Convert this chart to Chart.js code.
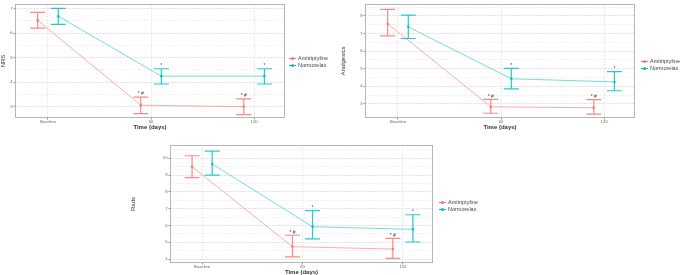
<!DOCTYPE html>
<html>
<head>
<meta charset="utf-8">
<script src="https://cdn.jsdelivr.net/npm/chart.js@4.4.0/dist/chart.umd.min.js"></script>
<style>
  body { margin: 0; background: #fff; width: 685px; height: 275px; overflow: hidden; font-family: "Liberation Sans", Arial, sans-serif; }
  canvas { position: absolute; }
  .legend { position: absolute; font-size: 5.5px; color: #444; line-height: 6.5px; }
  .legend .item { white-space: nowrap; }
  .legend .sym { display: inline-block; width: 7px; height: 1px; vertical-align: middle; margin-right: 2px; position: relative; }
  .legend .sym::after { content: ""; position: absolute; left: 2px; top: -1px; width: 3px; height: 3px; border-radius: 50%; background: inherit; }
</style>
</head>
<body>
<canvas id="nrs" width="290" height="131" style="left:0;top:0"></canvas>
<canvas id="analgesics" width="300" height="131" style="left:340px;top:0"></canvas>
<canvas id="rads" width="310" height="141" style="left:130px;top:135px"></canvas>

<div class="legend" style="left:289px;top:55px">
  <div class="item"><span class="sym" style="background:#F8766D"></span>Amitriptyline</div>
  <div class="item"><span class="sym" style="background:#00BFC4"></span>Normorelax</div>
</div>
<div class="legend" style="left:641px;top:58px">
  <div class="item"><span class="sym" style="background:#F8766D"></span>Amitriptyline</div>
  <div class="item"><span class="sym" style="background:#00BFC4"></span>Normorelax</div>
</div>
<div class="legend" style="left:439px;top:199px">
  <div class="item"><span class="sym" style="background:#F8766D"></span>Amitriptyline</div>
  <div class="item"><span class="sym" style="background:#00BFC4"></span>Normorelax</div>
</div>

<script>
var categories = ['Baseline', '60', '120'];
var groups = ['Amitriptyline', 'Normorelax'];

// NRS
var nrsAmi = [6.52, 3.07, 3.01];
var nrsAmiLow = [6.20, 2.73, 2.69];
var nrsAmiHigh = [6.84, 3.40, 3.33];
var nrsNor = [6.68, 4.25, 4.25];
var nrsNorLow = [6.35, 3.93, 3.93];
var nrsNorHigh = [7.00, 4.55, 4.55];

// Analgesics
var anaAmi = [7.56, 2.84, 2.78];
var anaAmiLow = [6.87, 2.47, 2.42];
var anaAmiHigh = [8.37, 3.26, 3.24];
var anaNor = [7.38, 4.43, 4.25];
var anaNorLow = [6.72, 3.86, 3.75];
var anaNorHigh = [8.05, 5.02, 4.84];

// Rads
var radAmi = [9.50, 4.74, 4.60];
var radAmiLow = [8.85, 4.14, 4.05];
var radAmiHigh = [10.15, 5.42, 5.24];
var radNor = [9.66, 5.93, 5.77];
var radNorLow = [9.00, 5.20, 5.02];
var radNorHigh = [10.42, 6.88, 6.64];

var sigAmi = ['', '* #', '* #'];
var sigNor = ['', '*', '*'];

// error bars, significance marks and panel border
var extras = {
    id: 'extras',
    afterDatasetsDraw(chart) {
        var ctx = chart.ctx;
        var xs = chart.scales.x, ys = chart.scales.y;
        chart.data.datasets.forEach(function(ds) {
            ds.data.forEach(function(p, i) {
                var px = xs.getPixelForValue(p.x);
                var top = ys.getPixelForValue(ds.high[i]);
                var bot = ys.getPixelForValue(ds.low[i]);
                ctx.save();
                ctx.strokeStyle = ds.barColor;
                ctx.lineWidth = 1.2;
                ctx.beginPath();
                ctx.moveTo(px, top); ctx.lineTo(px, bot);
                ctx.moveTo(px - 7.5, top); ctx.lineTo(px + 7.5, top);
                ctx.moveTo(px - 7.5, bot); ctx.lineTo(px + 7.5, bot);
                ctx.stroke();
                if (ds.sig[i]) {
                    ctx.fillStyle = '#444';
                    ctx.font = '5px "Liberation Sans", Arial, sans-serif';
                    ctx.textAlign = 'center';
                    ctx.textBaseline = 'bottom';
                    ctx.fillText(ds.sig[i], px, top - 0.5);
                }
                ctx.restore();
            });
        });
        var a = chart.chartArea;
        ctx.save();
        ctx.strokeStyle = '#b5b5b5';
        ctx.lineWidth = 1;
        ctx.strokeRect(a.left + 0.5, a.top + 0.5, a.right - a.left - 1, a.bottom - a.top - 1);
        ctx.restore();
    }
};

function series(vals, low, high, sig, color, barColor, shift, label) {
    return {
        label: label,
        data: vals.map(function(v, i) { return { x: i + shift, y: v }; }),
        low: low,
        high: high,
        sig: sig,
        barColor: barColor,
        borderColor: color,
        backgroundColor: barColor,
        borderWidth: 1,
        pointRadius: 1.3,
        pointBorderWidth: 0,
        tension: 0
    };
}

function renderPanel(id, title, amiSet, norSet, yMin, yMax, yTicks, yWidth, pad) {
    var ctx = document.getElementById(id).getContext('2d');
    return new Chart(ctx, {
        type: 'line',
        data: {
            datasets: [
                series(amiSet[0], amiSet[1], amiSet[2], sigAmi, 'rgba(248,118,109,0.6)', 'rgba(248,118,109,0.85)', -0.1, groups[0]),
                series(norSet[0], norSet[1], norSet[2], sigNor, 'rgba(0,191,196,0.55)', 'rgba(0,191,196,0.85)', 0.1, groups[1])
            ]
        },
        options: {
            responsive: false,
            animation: false,
            devicePixelRatio: 1,
            layout: { padding: pad },
            plugins: { legend: { display: false }, tooltip: { enabled: false } },
            scales: {
                x: {
                    type: 'linear',
                    min: -0.32,
                    max: 2.3,
                    afterFit: function(s) { s.height = 13; },
                    afterBuildTicks: function(s) { s.ticks = [0, 1, 2].map(function(v) { return { value: v }; }); },
                    ticks: {
                        callback: function(v) { return categories[v]; },
                        font: { size: 4.2 },
                        color: '#666',
                        padding: 0,
                        maxRotation: 0,
                        autoSkip: false
                    },
                    grid: { color: '#ebebeb', tickLength: 1.5, tickColor: '#999', lineWidth: 1 },
                    border: { display: false, dash: [2, 1] },
                    title: {
                        display: true,
                        text: 'Time (days)',
                        font: { size: 6, weight: 'bold' },
                        color: '#333',
                        padding: { top: 0, bottom: 0 }
                    }
                },
                y: {
                    type: 'linear',
                    min: yMin,
                    max: yMax,
                    afterFit: function(s) { s.width = yWidth; },
                    afterBuildTicks: function(s) { s.ticks = yTicks.map(function(v) { return { value: v }; }); },
                    ticks: {
                        callback: function(v) { return Number.isInteger(v) ? v : ''; },
                        font: { size: 4.2 },
                        color: '#666',
                        padding: 1
                    },
                    grid: {
                        color: function(c) { return Number.isInteger(c.tick.value) ? '#e3e3e3' : '#f1f1f1'; },
                        tickLength: 1.5,
                        tickColor: function(c) { return Number.isInteger(c.tick.value) ? '#999' : 'rgba(0,0,0,0)'; },
                        lineWidth: 1
                    },
                    border: { display: false, dash: [2, 1] },
                    title: {
                        display: true,
                        text: title,
                        font: { size: 6 },
                        color: '#333',
                        padding: { top: 0, bottom: 1 }
                    }
                }
            }
        },
        plugins: [extras]
    });
}

renderPanel('nrs', 'NRS',
    [nrsAmi, nrsAmiLow, nrsAmiHigh], [nrsNor, nrsNorLow, nrsNorHigh],
    2.55, 7.18, [3, 3.5, 4, 4.5, 5, 5.5, 6, 6.5, 7], 15, { top: 2, right: 5, left: 0, bottom: 0 });

renderPanel('analgesics', 'Analgesics',
    [anaAmi, anaAmiLow, anaAmiHigh], [anaNor, anaNorLow, anaNorHigh],
    2.2, 8.68, [3, 3.5, 4, 4.5, 5, 5.5, 6, 6.5, 7, 7.5, 8, 8.5], 25, { top: 1, right: 5, left: 0, bottom: 0 });

renderPanel('rads', 'Rads',
    [radAmi, radAmiLow, radAmiHigh], [radNor, radNorLow, radNorHigh],
    3.77, 10.79, [4, 4.5, 5, 5.5, 6, 6.5, 7, 7.5, 8, 8.5, 9, 9.5, 10, 10.5], 40, { top: 10, right: 7, left: 0, bottom: 0 });
</script>
</body>
</html>
